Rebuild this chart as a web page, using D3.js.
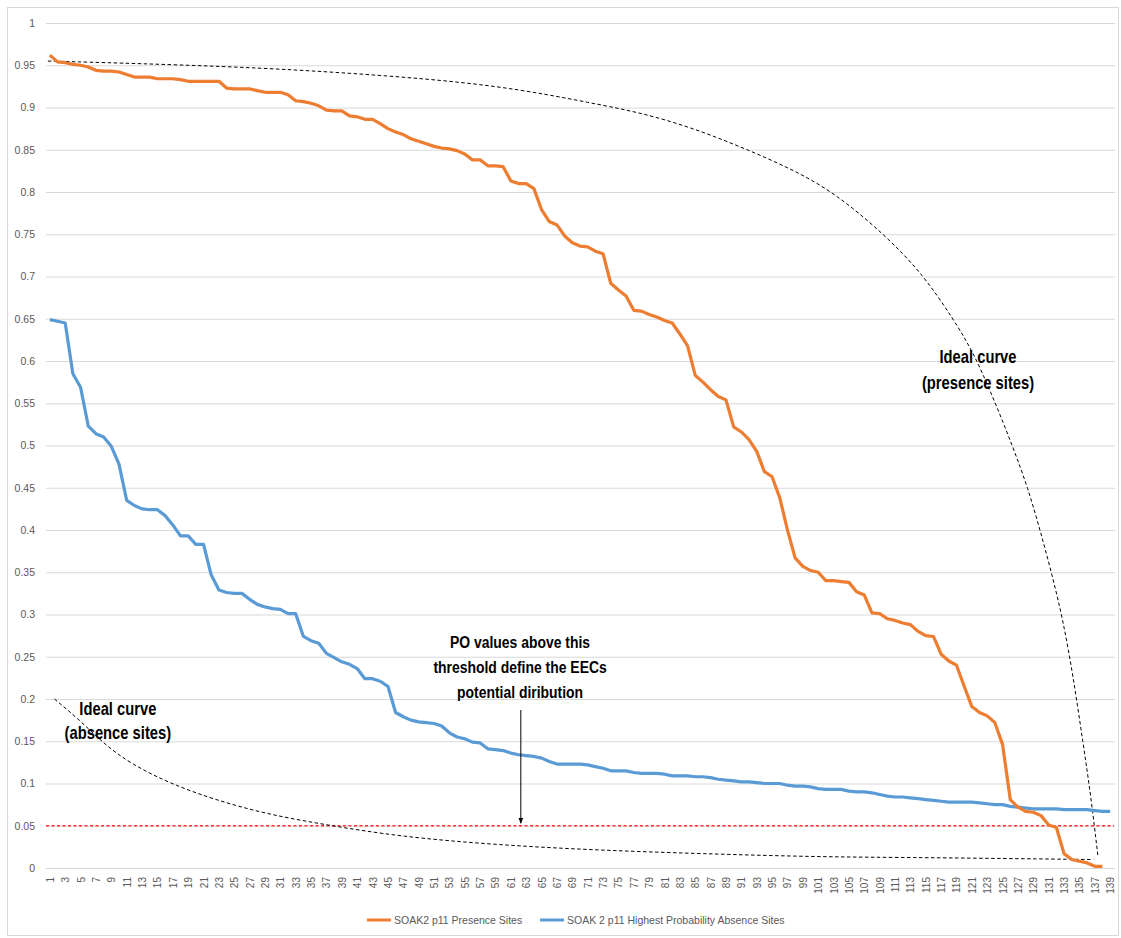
<!DOCTYPE html>
<html>
<head>
<meta charset="utf-8">
<script src="https://cdn.jsdelivr.net/npm/d3@7"></script>
<style>
  body { margin: 0; background: #fff; }
  svg { display: block; font-family: "Liberation Sans", Arial, "Open Sans", sans-serif; }
</style>
</head>
<body>
<svg id="chart" width="1121" height="938"></svg>
<script>
// presence sites, sorted high to low (138 sites)
const presence = [
  0.962, 0.954, 0.953, 0.951, 0.950, 0.948, 0.944, 0.943, 0.943, 0.942,
  0.939, 0.936, 0.936, 0.936, 0.934, 0.934, 0.934, 0.933, 0.931, 0.931,
  0.931, 0.931, 0.931, 0.923, 0.922, 0.922, 0.922, 0.920, 0.918, 0.918,
  0.918, 0.915, 0.908, 0.907, 0.905, 0.902, 0.897, 0.896, 0.896, 0.890,
  0.889, 0.886, 0.886, 0.881, 0.875, 0.871, 0.868, 0.863, 0.860, 0.857,
  0.854, 0.852, 0.851, 0.849, 0.845, 0.838, 0.838, 0.831, 0.831, 0.830,
  0.813, 0.810, 0.810, 0.804, 0.779, 0.765, 0.761, 0.748, 0.740, 0.736,
  0.735, 0.730, 0.727, 0.692, 0.684, 0.677, 0.660, 0.659, 0.655, 0.652,
  0.648, 0.645, 0.632, 0.618, 0.583, 0.575, 0.566, 0.558, 0.554, 0.522,
  0.516, 0.507, 0.493, 0.469, 0.463, 0.438, 0.400, 0.367, 0.357, 0.352,
  0.350, 0.340, 0.340, 0.339, 0.338, 0.327, 0.323, 0.302, 0.301, 0.295,
  0.293, 0.290, 0.288, 0.280, 0.275, 0.274, 0.253, 0.245, 0.240, 0.215,
  0.191, 0.184, 0.180, 0.172, 0.146, 0.081, 0.072, 0.067, 0.066, 0.062,
  0.051, 0.048, 0.017, 0.010, 0.008, 0.006, 0.002, 0.002
];

// highest probability absence sites (139 sites)
const absence = [
  0.649, 0.647, 0.645, 0.585, 0.569, 0.523, 0.514, 0.510, 0.499, 0.478,
  0.435, 0.429, 0.425, 0.424, 0.424, 0.417, 0.406, 0.393, 0.393, 0.383,
  0.383, 0.347, 0.329, 0.326, 0.325, 0.325, 0.318, 0.312, 0.309, 0.307,
  0.306, 0.301, 0.301, 0.274, 0.269, 0.266, 0.254, 0.249, 0.244, 0.241,
  0.236, 0.224, 0.224, 0.221, 0.215, 0.184, 0.179, 0.175, 0.173, 0.172,
  0.171, 0.168, 0.160, 0.155, 0.153, 0.149, 0.148, 0.141, 0.140, 0.139,
  0.136, 0.134, 0.133, 0.132, 0.130, 0.126, 0.123, 0.123, 0.123, 0.123,
  0.122, 0.120, 0.118, 0.115, 0.115, 0.115, 0.113, 0.112, 0.112, 0.112,
  0.111, 0.109, 0.109, 0.109, 0.108, 0.108, 0.107, 0.105, 0.104, 0.103,
  0.102, 0.102, 0.101, 0.100, 0.100, 0.100, 0.098, 0.097, 0.097, 0.096,
  0.094, 0.093, 0.093, 0.093, 0.091, 0.090, 0.090, 0.089, 0.087, 0.085,
  0.084, 0.084, 0.083, 0.082, 0.081, 0.080, 0.079, 0.078, 0.078, 0.078,
  0.078, 0.077, 0.076, 0.075, 0.075, 0.073, 0.072, 0.071, 0.070, 0.070,
  0.070, 0.070, 0.069, 0.069, 0.069, 0.069, 0.068, 0.067, 0.067
];

// hand-drawn "ideal" curves, [site index, value]
const idealPresence = [
  [0.74, 0.955], [24.4, 0.949], [41.8, 0.940], [59.2, 0.927], [72.2, 0.904],
  [77.8, 0.894], [84.3, 0.877], [90.8, 0.854], [97.4, 0.828], [103, 0.800],
  [109.5, 0.751], [114.7, 0.702], [118.55, 0.650], [121.16, 0.611], [123.76, 0.557],
  [126.36, 0.498], [128.32, 0.449], [129.88, 0.400], [131.44, 0.347], [132.87, 0.293],
  [134.17, 0.228], [135.47, 0.148], [136.51, 0.084], [137.42, 0.013]
];
const idealAbsence = [
  [1.6, 0.200], [4.9, 0.175], [7.9, 0.148], [11.4, 0.124], [16.6, 0.100],
  [22.7, 0.080], [29.6, 0.063], [37, 0.051], [46.6, 0.037], [59.6, 0.027],
  [72.6, 0.021], [85.6, 0.017], [101.3, 0.013], [113.8, 0.0125], [136.8, 0.010]
];

const threshold = 0.05;
const yTicks = d3.range(0, 21).map((i) => i / 20);
const xTicks = d3.range(1, 140, 2);
const seriesNames = ["SOAK2 p11 Presence Sites", "SOAK 2 p11 Highest Probability Absence Sites"];
const seriesColors = ["#ED7D31", "#5B9BD5"];
const presenceNote = ["Ideal curve", "(presence sites)"];
const absenceNote = ["Ideal curve", "(absence sites)"];
const thresholdNote = ["PO values above this", "threshold define the EECs", "potential diribution"];

const plot = { left: 46, right: 1114, top: 23, bottom: 868 };
const svg = d3.select("#chart");

const x = d3.scaleLinear().domain([0.5, 139.5]).range([plot.left, plot.right]);
const y = d3.scaleLinear().domain([0, 1]).range([plot.bottom, plot.top]);

svg.append("defs").append("marker")
  .attr("id", "arrow")
  .attr("viewBox", "0 0 10 10")
  .attr("refX", 9).attr("refY", 5)
  .attr("markerWidth", 6).attr("markerHeight", 7)
  .attr("orient", "auto")
  .append("path").attr("d", "M0,1 L10,5 L0,9 Z").attr("fill", "#000");

// chart frame
svg.append("rect")
  .attr("x", 7.5).attr("y", 7.5)
  .attr("width", 1111).attr("height", 928)
  .attr("fill", "none").attr("stroke", "#d9d9d9");

function appendGrid() {
  const g = svg.append("g")
    .attr("transform", `translate(${plot.left},0)`)
    .call(d3.axisLeft(y).tickValues(yTicks).tickSize(-(plot.right - plot.left + 1)).tickPadding(11)
      .tickFormat((d) => String(+d.toFixed(2))));
  g.select(".domain").remove();
  g.selectAll(".tick line").attr("stroke", "#d9d9d9").attr("stroke-width", 1.2);
  g.selectAll(".tick text").attr("fill", "#595959").attr("font-size", 10.5);
}

function appendXAxis() {
  const g = svg.append("g")
    .attr("transform", `translate(0,${plot.bottom})`)
    .call(d3.axisBottom(x).tickValues(xTicks).tickSize(0).tickFormat(d3.format("d")));
  g.select(".domain").remove();
  g.selectAll(".tick text")
    .attr("fill", "#595959")
    .attr("font-size", 10)
    .attr("text-anchor", "end")
    .attr("transform", "rotate(-90)")
    .attr("x", -9).attr("y", 0).attr("dy", "0.35em");
}

function appendLine(data, color) {
  const line = d3.line().x((d, i) => x(i + 1)).y((d) => y(d));
  svg.append("path")
    .datum(data)
    .attr("fill", "none")
    .attr("stroke", color)
    .attr("stroke-width", 3.2)
    .attr("stroke-linejoin", "round")
    .attr("d", line);
}

function appendIdeal(points) {
  const line = d3.line().x((d) => x(d[0])).y((d) => y(d[1])).curve(d3.curveBasis);
  svg.append("path")
    .datum(points)
    .attr("fill", "none")
    .attr("stroke", "#000")
    .attr("stroke-width", 1)
    .attr("stroke-dasharray", "3.5,2.5")
    .attr("d", line);
}

// bold notes, squeezed a bit to get the narrow look of the original
function appendNote(lines, cx, cy, lineHeight, size) {
  const t = svg.append("text")
    .attr("transform", `translate(${cx},${cy}) scale(0.82,1)`)
    .attr("text-anchor", "middle")
    .attr("font-weight", "bold")
    .attr("font-size", size)
    .attr("fill", "#000");
  lines.forEach((s, i) => {
    t.append("tspan").attr("x", 0).attr("y", i * lineHeight).text(s);
  });
}

function appendLegend() {
  const g = svg.append("g").attr("transform", "translate(0,920)");
  const items = [
    { x0: 367, name: seriesNames[0], color: seriesColors[0] },
    { x0: 540, name: seriesNames[1], color: seriesColors[1] }
  ];
  items.forEach((d) => {
    g.append("line").attr("x1", d.x0).attr("x2", d.x0 + 24).attr("y1", 0).attr("y2", 0)
      .attr("stroke", d.color).attr("stroke-width", 3);
    g.append("text").attr("x", d.x0 + 27).attr("y", 0).attr("dy", "0.35em")
      .attr("font-size", 10.5).attr("fill", "#595959").text(d.name);
  });
}

appendGrid();
appendXAxis();

// threshold line
svg.append("line")
  .attr("x1", plot.left).attr("x2", plot.right)
  .attr("y1", y(threshold)).attr("y2", y(threshold))
  .attr("stroke", "#FF3030").attr("stroke-width", 1.5).attr("stroke-dasharray", "3,2.5");

appendIdeal(idealPresence);
appendIdeal(idealAbsence);
appendLine(absence, seriesColors[1]);
appendLine(presence, seriesColors[0]);

appendNote(presenceNote, x(121.8), y(0.598), 26, 18);
appendNote(absenceNote, x(9.85), y(0.181), 24, 18);
appendNote(thresholdNote, x(62.2), y(0.260), 25, 17);

svg.append("line")
  .attr("x1", x(62.3)).attr("x2", x(62.3))
  .attr("y1", y(0.187)).attr("y2", y(0.053))
  .attr("stroke", "#000").attr("stroke-width", 1)
  .attr("marker-end", "url(#arrow)");

appendLegend();
</script>
</body>
</html>
